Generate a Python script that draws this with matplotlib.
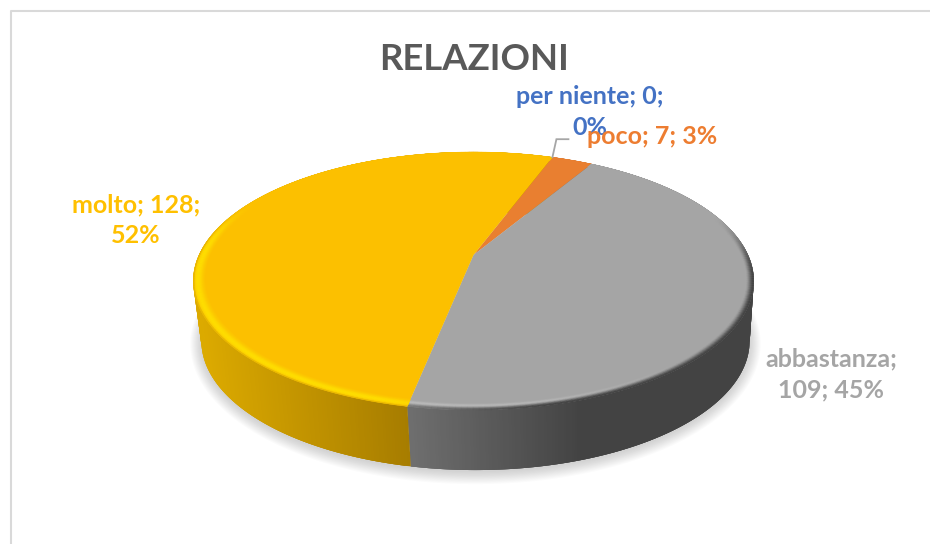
import numpy as np
import matplotlib
matplotlib.use("Agg")
import matplotlib.pyplot as plt
from matplotlib.collections import PolyCollection
from matplotlib.colors import to_rgb

# ---- data ----
categories = ["per niente", "poco", "abbastanza", "molto"]
values = [0, 7, 109, 128]
percent_labels = ["0%", "3%", "45%", "52%"]
title = "RELAZIONI"

# ---- style ----
top_colors = ["#4472c4", "#e97f30", "#a5a5a5", "#fcc000"]
text_colors = ["#4472c4", "#ed7d31", "#a5a5a5", "#ffc000"]
START_DEG = 20.0
APEX = (473.5, 255.0)
A, B, K = 274.5, 123.8, 0.2016
DROP = 60.0
X_SCALE = 0.978
FONT = ["Lato", "DejaVu Sans"]


def project(phi, r=1.0):
    """Perspective view of a point on the pie; phi is clockwise from the top."""
    x = r * np.sin(phi)
    y = r * np.cos(phi)
    d = 1 + K * y
    return APEX[0] + A * x / d, APEX[1] - B * y / d


def lower(phi):
    x, y = project(phi)
    return (x - APEX[0]) * X_SCALE + APEX[0] + 2, y + DROP


def mix(c1, c2, t):
    t = np.clip(t, 0, 1)
    return tuple(a + (b - a) * t for a, b in zip(c1, c2))


def smooth(a, b, v):
    t = np.clip((v - a) / (b - a), 0, 1)
    return t * t * (3 - 2 * t)


fig = plt.figure(figsize=(9.30, 5.44), dpi=100, facecolor="white")
ax = fig.add_axes([0, 0, 1, 1])
ax.set_xlim(0, 930)
ax.set_ylim(544, 0)
ax.axis("off")

# chart frame
ax.plot([10.5, 10.5, 930], [544, 10.5, 10.5], color="#d9d9d9", lw=1.5, zorder=1)

# angles from the values
total = sum(values)
edges = np.radians(START_DEG + 360.0 * np.cumsum([0] + values) / total)

# soft shadow
full = np.linspace(0, 2 * np.pi, 361)
sx, sy = lower(full)
cx, cy = sx.mean(), sy.mean()
for grow in np.linspace(11, 0, 12):
    fx = cx + (sx - cx) * (1 + grow / 272)
    fy = cy + 2 + (sy - cy) * (1 + grow / 130)
    ax.fill(fx, fy, color="#808080", alpha=0.03, lw=0, zorder=2)


# side wall
def wall_color(i, x):
    if categories[i] == "molto":
        return mix(to_rgb("#dcaa00"), to_rgb("#a67c00"), (x - 200) / 210)
    if categories[i] == "abbastanza":
        return mix(to_rgb("#6e6e6e"), to_rgb("#434343"), (x - 411) / 170)
    return mix(to_rgb(top_colors[i]), (0, 0, 0), 0.3)


polys, cols = [], []
for i in range(len(values)):
    if values[i] == 0:
        continue
    n = max(int(np.degrees(edges[i + 1] - edges[i]) * 2), 2)
    ph = np.linspace(edges[i], edges[i + 1], n + 1)
    tx, ty = project(ph)
    bx, by = lower(ph)
    for j in range(n):
        e = min(j + 3, n)  # each strip runs under its neighbours: no seams
        pts = [(tx[m], ty[m]) for m in range(j, e + 1)]
        pts += [(bx[m], by[m]) for m in range(e, j - 1, -1)]
        polys.append(pts)
        cols.append(wall_color(i, (tx[j] + tx[j + 1]) / 2))
ax.add_collection(PolyCollection(polys, facecolors=cols, edgecolors="none",
                                 linewidths=0, zorder=3))

# top face
for i in range(len(values)):
    if values[i] == 0:
        continue
    ph = np.linspace(edges[i], edges[i + 1], 300)
    rx, ry = project(ph)
    ax.fill(np.r_[APEX[0], rx], np.r_[APEX[1], ry], color=top_colors[i],
            lw=0, zorder=4)


# bevel along the front rim
def bevel_color(i, phi, t):
    deg = np.degrees(phi) % 360
    base = to_rgb(top_colors[i])
    if categories[i] == "molto":
        s = smooth(165, 200, deg) * (1 - smooth(272, 300, deg))
        c = mix(base, to_rgb("#ffdf00"), s * np.exp(-((t - 0.6) / 0.4) ** 2))
        return mix(c, to_rgb("#d9a600"), s * smooth(0.85, 1.0, t) * 0.7)
    if categories[i] == "abbastanza":
        dark = smooth(70, 100, deg) * (1 - smooth(165, 200, deg) * 0.65)
        light = smooth(130, 180, deg)
        c = mix(base, to_rgb("#c4c4c4"), light * np.exp(-((t - 0.55) / 0.25) ** 2))
        return mix(c, to_rgb("#404040"), dark * smooth(0.35, 1.0, t))
    return base


polys, cols = [], []
radii = np.linspace(0.96, 1.0, 13)
for i in range(len(values)):
    if values[i] == 0:
        continue
    n = max(int(np.degrees(edges[i + 1] - edges[i])), 2)
    ph = np.linspace(edges[i], edges[i + 1], n + 1)
    for k in range(len(radii) - 1):
        x0, y0 = project(ph, radii[k])
        x1, y1 = project(ph, radii[k + 1])
        t = (k + 0.5) / (len(radii) - 1)
        for j in range(n):
            polys.append([(x0[j], y0[j]), (x0[j + 1], y0[j + 1]),
                          (x1[j + 1], y1[j + 1]), (x1[j], y1[j])])
            cols.append(bevel_color(i, (ph[j] + ph[j + 1]) / 2, t))
ax.add_collection(PolyCollection(polys, facecolors=cols, edgecolors=cols,
                                 linewidths=0.3, zorder=5))

# leader line of the empty slice
lx, ly = project(edges[1])
ax.plot([lx, lx + 4, lx + 16], [ly, ly - 18, ly - 18], color="#a6a6a6", lw=1.3,
        zorder=6, solid_joinstyle="miter")

# labels
label_texts = [
    f"{categories[0]}; {values[0]};\n{percent_labels[0]}",
    f"{categories[1]}; {values[1]}; {percent_labels[1]}",
    f"{categories[2]};\n{values[2]}; {percent_labels[2]}",
    f"{categories[3]}; {values[3]};\n{percent_labels[3]}",
]
label_pos = [(590, 112), (652, 137), (831, 374), (136, 220)]
for txt, pos, col in zip(label_texts, label_pos, text_colors):
    ax.text(pos[0], pos[1], txt, color=col, ha="center", va="center",
            family=FONT, weight="bold", fontsize=18, linespacing=1.42, zorder=7)

ax.text(474, 59, title, color="#595959", ha="center", va="center", family=FONT,
        weight="bold", fontsize=26.3, zorder=7)

fig.savefig("out.png", dpi=100, facecolor="white")
